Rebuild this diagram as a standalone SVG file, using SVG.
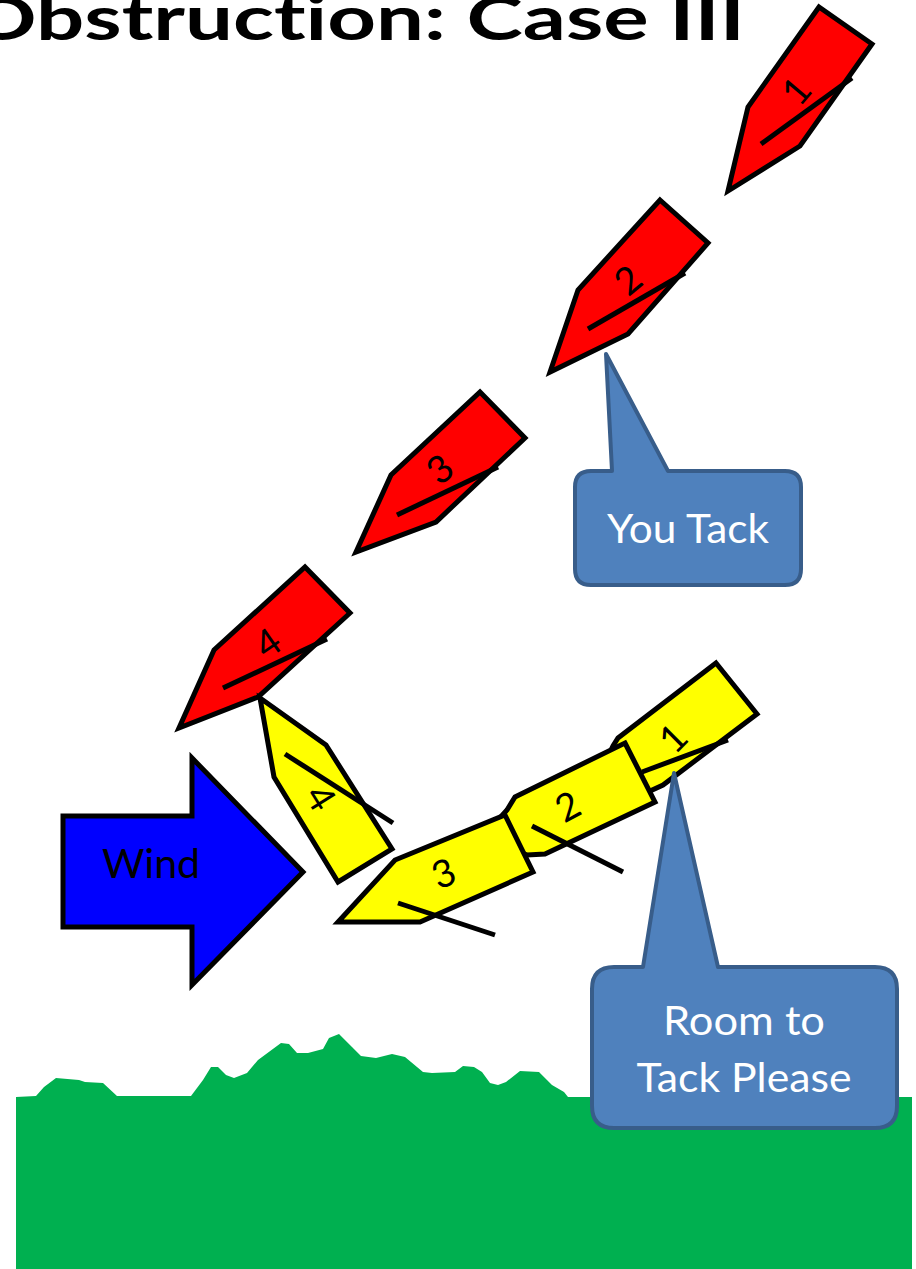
<svg xmlns="http://www.w3.org/2000/svg" width="916" height="1269" viewBox="0 0 916 1269">
<style>
.red{fill:#FF0000;stroke:#000;stroke-width:5;stroke-linejoin:miter}
.yel{fill:#FFFF00;stroke:#000;stroke-width:5;stroke-linejoin:miter}
.boom{stroke:#000;stroke-width:5;fill:none}
.num{font-family:Lato,"Open Sans","Liberation Sans",sans-serif;font-size:38px;fill:#000;text-anchor:middle;dominant-baseline:central}
.call{fill:#4F81BD;stroke:#385D8A;stroke-width:4;stroke-linejoin:round}
.ctext{font-family:Lato,"Open Sans","Liberation Sans",sans-serif;font-size:40px;fill:#FFFFFF;text-anchor:middle}
text{font-variant-ligatures:none;font-feature-settings:"liga" 0}
</style>
<rect width="916" height="1269" fill="#FFFFFF"/>
<g id="title">
<text x="-32" y="40" font-family="Lato,'Open Sans','Liberation Sans',sans-serif" font-weight="bold" font-size="62" textLength="777" lengthAdjust="spacingAndGlyphs" fill="#000">Obstruction: Case III</text>
</g>
<g id="land">
<path fill="#00B050" d="M16,1097 L36,1096 L44,1087 L56,1078 L79,1080 L85,1082 L103,1083 L117,1096 L191,1096 L203,1080 L211,1067 L218,1067 L226,1075 L234,1078 L247,1073 L258,1060 L281,1043 L289,1044 L297,1053 L308,1053 L323,1049 L329,1038 L339,1034 L352,1047 L361,1056 L376,1058 L392,1054 L405,1057 L423,1072 L432,1073 L455,1072 L463,1066 L474,1067 L482,1072 L490,1083 L498,1085 L506,1082 L520,1071 L539,1072 L552,1085 L564,1092 L568,1097 L912,1097 L912,1269 L16,1269 Z"/>
</g>
<g id="red1">
<polygon class="red" points="819,7 872,44 800,146 728,191 748,107"/>
<line class="boom" x1="761" y1="144" x2="852" y2="78"/>
<text class="num" transform="translate(795,90) rotate(-50)">1</text>
</g>
<g id="red2">
<polygon class="red" points="660,200 708,243 628,334 550,372 578,290"/>
<line class="boom" x1="588" y1="329" x2="685" y2="273"/>
<text class="num" transform="translate(627,279) rotate(-40)">2</text>
</g>
<g id="red3">
<polygon class="red" points="480,392 525,438 436,522 356,552 391,475"/>
<line class="boom" x1="397" y1="515" x2="498" y2="467"/>
<text class="num" transform="translate(439,468) rotate(-38)">3</text>
</g>
<g id="red4">
<polygon class="red" points="305,567 350,613 258,697 179,728 214,650"/>
<line class="boom" x1="223" y1="688" x2="327" y2="639"/>
<text class="num" transform="translate(267,642) rotate(-35)">4</text>
</g>
<g id="yellow4">
<polygon class="yel" points="260,698 326,745 392,849 338,882 274,777"/>
<line class="boom" x1="285" y1="754" x2="393" y2="823"/>
<text class="num" transform="translate(322,797) rotate(58)">4</text>
</g>
<g id="yellow1">
<polygon class="yel" points="716,663 757,714 663,785 650,791 590,795 613,746 618,738"/>
<line class="boom" x1="642" y1="772" x2="728" y2="740"/>
<text class="num" transform="translate(672,737) rotate(-45)">1</text>
</g>
<g id="yellow2">
<polygon class="yel" points="625,743 655,802 545,854 527,855 480,840 507,810 515,797"/>
<line class="boom" x1="532" y1="826" x2="623" y2="872"/>
<text class="num" transform="translate(567,805) rotate(-28)">2</text>
</g>
<g id="yellow3">
<polygon class="yel" points="505,815 533,872 420,922 338,922 395,860"/>
<line class="boom" x1="398" y1="903" x2="495" y2="935"/>
<text class="num" transform="translate(443,872) rotate(-22)">3</text>
</g>
<g id="wind">
<polygon points="63,816 192,816 192,758 303,872 192,985 192,927 63,927" fill="#0000FF" stroke="#000" stroke-width="5"/>
<text x="151" y="878" font-family="Lato,'Open Sans','Liberation Sans',sans-serif" font-size="40" text-anchor="middle" textLength="98" lengthAdjust="spacingAndGlyphs" fill="#000">Wind</text>
</g>
<g id="callout-you-tack">
<path class="call" d="M591,471 L612,471 L606,354 L668,471 L785,471 Q801,471 801,487 L801,569 Q801,585 785,585 L591,585 Q575,585 575,569 L575,487 Q575,471 591,471 Z"/>
<text class="ctext" x="688" y="543" textLength="162" lengthAdjust="spacingAndGlyphs">You Tack</text>
</g>
<g id="callout-room">
<path class="call" d="M614,967 L643,967 L674,773 L718,967 L875,967 Q897,967 897,989 L897,1106 Q897,1128 875,1128 L614,1128 Q592,1128 592,1106 L592,989 Q592,967 614,967 Z"/>
<text class="ctext" x="744" y="1035" textLength="162" lengthAdjust="spacingAndGlyphs">Room to</text>
<text class="ctext" x="744" y="1092" textLength="215" lengthAdjust="spacingAndGlyphs">Tack Please</text>
</g>
<g id="connectors"/>
</svg>
